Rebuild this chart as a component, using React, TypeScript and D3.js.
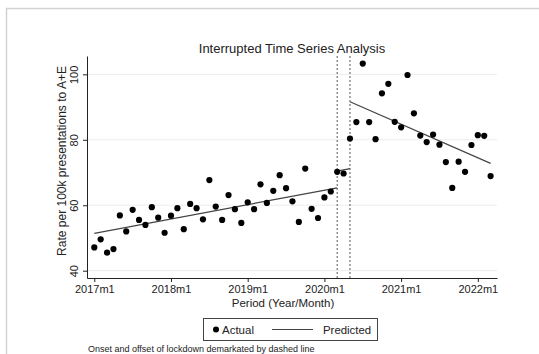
import React, { useEffect, useRef } from 'react'
import * as d3 from 'd3'

// monthly rate per 100k presentations, 2017m1 .. 2022m3
const actual: number[] = [
  47.1, 49.6, 45.5, 46.6, 56.9, 52.0, 58.6, 55.5, 54.0, 59.4, 56.2, 51.6,
  56.8, 59.1, 52.7, 60.4, 59.1, 55.7, 67.7, 59.6, 55.5, 63.1, 58.8, 54.6,
  60.9, 58.8, 66.4, 60.7, 64.4, 69.2, 65.2, 61.2, 54.9, 71.2, 58.9, 56.1,
  62.4, 64.2, 70.2, 69.7, 80.4, 85.4, 103.3, 85.4, 80.2, 94.2, 97.1, 85.5,
  83.8, 99.8, 88.1, 81.3, 79.3, 81.6, 78.5, 73.2, 65.3, 73.3, 70.2, 78.4,
  81.4, 81.2, 68.9,
]
const startYear = 2017

// fitted segments (pre, lockdown, post)
const predFrom = ['2017m1', '2020m3', '2020m5']
const predTo = ['2020m3', '2020m5', '2022m3']
const predStart = [51.4, 70.4, 91.6]
const predEnd = [65.3, 71.2, 72.8]

const lockdown = ['2020m3', '2020m5']
const xTicks = ['2017m1', '2018m1', '2019m1', '2020m1', '2021m1', '2022m1']
const yTicks = [40, 60, 80, 100]

const monthIndex = (p: string) => {
  const [y, m] = p.split('m').map(Number)
  return (y - startYear) * 12 + (m - 1)
}

const font = '"Liberation Sans", Arial, Helvetica, sans-serif'
const ink = '#222'

export default function App() {
  const ref = useRef<SVGSVGElement>(null)

  useEffect(() => {
    const svg = d3.select(ref.current)
    svg.selectAll('*').remove()

    const left = 87, right = 497, top = 56, bottom = 278

    const x = d3.scaleLinear().domain([-1.14, 63.0]).range([left, right])
    const y = d3.scaleLinear().domain([37.77, 105.6]).range([bottom, top])

    // outer frame
    svg.append('path')
      .attr('d', 'M6.5,354 L6.5,8.5 L539,8.5')
      .attr('fill', 'none')
      .attr('stroke', '#d2d2d2')
      .attr('stroke-width', 1.5)

    // gridlines
    svg.append('g').selectAll('line')
      .data(yTicks)
      .enter()
      .append('line')
        .attr('x1', left).attr('x2', right)
        .attr('y1', d => y(d)).attr('y2', d => y(d))
        .attr('stroke', '#ececec')
        .attr('stroke-width', 1)

    // x axis
    const gx = svg.append('g')
      .attr('transform', `translate(0,${bottom})`)
      .call(d3.axisBottom(x)
        .tickValues(xTicks.map(monthIndex))
        .tickFormat((d, i) => xTicks[i])
        .tickSizeInner(4).tickSizeOuter(0).tickPadding(3))
    gx.select('.domain').attr('stroke', ink)
    gx.selectAll('line').attr('stroke', ink)
    gx.selectAll('text')
      .attr('fill', ink)
      .style('font-family', font)
      .style('font-size', '11px')

    // y axis, labels turned upright like Stata
    const gy = svg.append('g')
      .attr('transform', `translate(${left},0)`)
      .call(d3.axisLeft(y)
        .tickValues(yTicks)
        .tickSizeInner(4).tickSizeOuter(0))
    gy.select('.domain').attr('stroke', ink)
    gy.selectAll('line').attr('stroke', ink)
    gy.selectAll('text')
      .attr('fill', ink)
      .attr('x', null).attr('y', null).attr('dy', null)
      .attr('text-anchor', 'middle')
      .attr('transform', 'translate(-9,0) rotate(-90)')
      .style('font-family', font)
      .style('font-size', '11px')

    // lockdown markers
    svg.append('g').selectAll('line')
      .data(lockdown)
      .enter()
      .append('line')
        .attr('x1', d => x(monthIndex(d))).attr('x2', d => x(monthIndex(d)))
        .attr('y1', top).attr('y2', bottom)
        .attr('stroke', '#555')
        .attr('stroke-width', 1)
        .attr('stroke-dasharray', '2,2')

    // predicted
    svg.append('g').selectAll('line')
      .data(predFrom.map((f, i) => ({ f, t: predTo[i], a: predStart[i], b: predEnd[i] })))
      .enter()
      .append('line')
        .attr('x1', d => x(monthIndex(d.f))).attr('x2', d => x(monthIndex(d.t)))
        .attr('y1', d => y(d.a)).attr('y2', d => y(d.b))
        .attr('stroke', '#444')
        .attr('stroke-width', 1.2)

    // actual
    svg.append('g').selectAll('circle')
      .data(actual)
      .enter()
      .append('circle')
        .attr('cx', (d, i) => x(i))
        .attr('cy', d => y(d))
        .attr('r', 3.1)
        .attr('fill', '#000')

    // titles
    svg.append('text')
      .attr('x', 292).attr('y', 53)
      .attr('text-anchor', 'middle')
      .attr('fill', ink)
      .style('font-family', font).style('font-size', '13px')
      .text('Interrupted Time Series Analysis')

    svg.append('text')
      .attr('transform', 'translate(66,161) rotate(-90)')
      .attr('text-anchor', 'middle')
      .attr('fill', ink)
      .style('font-family', font).style('font-size', '12px')
      .text('Rate per 100k presentations to A+E')

    svg.append('text')
      .attr('x', 283).attr('y', 307)
      .attr('text-anchor', 'middle')
      .attr('fill', ink)
      .style('font-family', font).style('font-size', '11.5px')
      .text('Period (Year/Month)')

    // legend
    const lg = svg.append('g')
    lg.append('rect')
      .attr('x', 203.5).attr('y', 318.5)
      .attr('width', 174).attr('height', 22)
      .attr('fill', '#fff').attr('stroke', '#444')
    lg.append('circle').attr('cx', 216).attr('cy', 329.5).attr('r', 3).attr('fill', '#000')
    lg.append('text')
      .attr('x', 222).attr('y', 333.5)
      .attr('fill', ink)
      .style('font-family', font).style('font-size', '11.5px')
      .text('Actual')
    lg.append('line')
      .attr('x1', 272).attr('x2', 313).attr('y1', 329.5).attr('y2', 329.5)
      .attr('stroke', '#444').attr('stroke-width', 1.2)
    lg.append('text')
      .attr('x', 323).attr('y', 333.5)
      .attr('fill', ink)
      .style('font-family', font).style('font-size', '11.4px')
      .text('Predicted')

    svg.append('text')
      .attr('x', 88).attr('y', 352)
      .attr('fill', ink)
      .style('font-family', font).style('font-size', '9px')
      .text('Onset and offset of lockdown demarkated by dashed line')
  }, [])

  return (
    <svg
      ref={ref}
      width={539}
      height={354}
      style={{ position: 'absolute', left: 0, top: 0, background: '#fff' }}
    />
  )
}
